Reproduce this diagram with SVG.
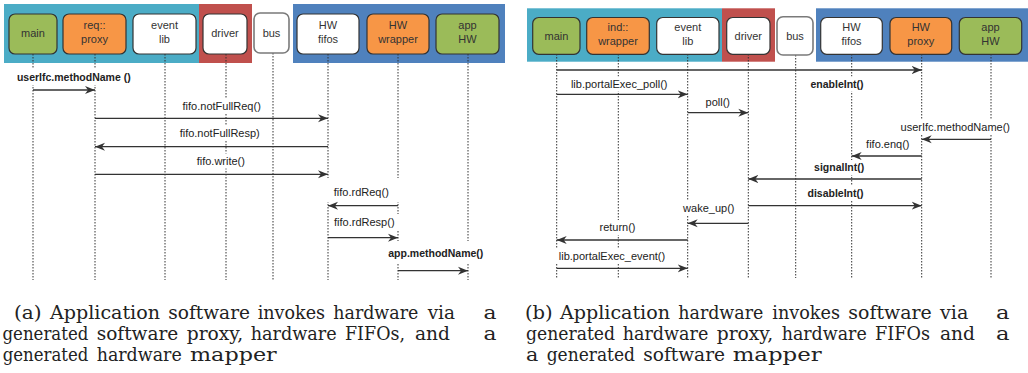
<svg xmlns="http://www.w3.org/2000/svg" width="1028" height="373" viewBox="0 0 1028 373">
<style>
.bg{fill:#fff}
.cy{fill:#4BACC6}.rd{fill:#C0504D}.bl{fill:#4F81BD}
.box{stroke:#333;stroke-width:1.2}
.g{fill:#9BBB59}.o{fill:#F79646}.w{fill:#fff}
.bus{fill:#fff;stroke:#7a7a7a;stroke-width:1.6}
.nt{font-family:"Liberation Sans",Arial,sans-serif;font-size:11px;fill:#333;text-anchor:middle}
.life{stroke:#333;stroke-width:1;stroke-dasharray:1.5 1.5;fill:none}
.lb{font-family:"Liberation Sans",Arial,sans-serif;font-size:11px;fill:#222;text-anchor:middle;dominant-baseline:central}
.b{font-weight:bold;font-size:10.5px}
.msg{stroke:#333;stroke-width:1.3;fill:none;marker-end:url(#ah)}
.cap{font-family:"DejaVu Serif","Liberation Serif",serif;font-size:19px;fill:#222}
</style>
<defs>
<marker id="ah" markerUnits="userSpaceOnUse" markerWidth="11" markerHeight="9" refX="10" refY="4.5" orient="auto">
<path d="M0,0.5 L10,4.5 L0,8.5 L3,4.5 Z" fill="#333"/>
</marker>
</defs>
<rect class="bg" x="0" y="0" width="1028" height="373"/>

<!-- Left bands -->
<rect class="cy" x="4" y="4" width="195" height="59"/>
<rect class="rd" x="199" y="4" width="53" height="59"/>
<rect class="bl" x="293" y="4" width="212" height="59"/>
<!-- Right bands -->
<rect class="cy" x="527" y="8.3" width="195" height="53.4"/>
<rect class="rd" x="722" y="8.3" width="53" height="53.4"/>
<rect class="bl" x="816" y="8.3" width="212" height="53.4"/>

<!-- Lifelines left -->
<g id="lifelines-a">
<line class="life" x1="33" y1="54" x2="33" y2="280"/>
<line class="life" x1="95" y1="54" x2="95" y2="280"/>
<line class="life" x1="165" y1="54" x2="165" y2="280"/>
<line class="life" x1="226" y1="54" x2="226" y2="280"/>
<line class="life" x1="273" y1="53" x2="273" y2="280"/>
<line class="life" x1="328" y1="54" x2="328" y2="280"/>
<line class="life" x1="398" y1="54" x2="398" y2="280"/>
<line class="life" x1="468" y1="54" x2="468" y2="280"/>
</g>
<g id="lifelines-b">
<line class="life" x1="556.7" y1="54" x2="556.7" y2="278"/>
<line class="life" x1="618.3" y1="54" x2="618.3" y2="278"/>
<line class="life" x1="687.7" y1="54" x2="687.7" y2="278"/>
<line class="life" x1="748.3" y1="54" x2="748.3" y2="278"/>
<line class="life" x1="795.7" y1="55" x2="795.7" y2="278"/>
<line class="life" x1="851.7" y1="54" x2="851.7" y2="278"/>
<line class="life" x1="921.7" y1="54" x2="921.7" y2="278"/>
<line class="life" x1="991" y1="54" x2="991" y2="278"/>
</g>

<!-- Nodes left -->
<g id="a-main"><rect class="box g" x="9" y="14" width="48" height="40" rx="6"/><text class="nt" x="33" y="36.5">main</text></g>
<g id="a-reqproxy"><rect class="box o" x="63" y="14" width="63" height="40" rx="6"/><text class="nt" x="94.5" y="29">req::</text><text class="nt" x="94.5" y="43">proxy</text></g>
<g id="a-eventlib"><rect class="box w" x="133" y="14" width="63" height="40" rx="6"/><text class="nt" x="164.5" y="29">event</text><text class="nt" x="164.5" y="43">lib</text></g>
<g id="a-driver"><rect class="box w" x="203" y="14" width="44" height="40" rx="6"/><text class="nt" x="225" y="36.5">driver</text></g>
<g id="a-bus"><rect class="bus" x="254" y="13" width="35" height="40" rx="6"/><text class="nt" x="271.5" y="36.5">bus</text></g>
<g id="a-hwfifos"><rect class="box w" x="297" y="14" width="62" height="40" rx="6"/><text class="nt" x="328" y="29">HW</text><text class="nt" x="328" y="43">fifos</text></g>
<g id="a-hwwrapper"><rect class="box o" x="367" y="14" width="62" height="40" rx="6"/><text class="nt" x="398" y="29">HW</text><text class="nt" x="398" y="43">wrapper</text></g>
<g id="a-apphw"><rect class="box g" x="436" y="14" width="63" height="40" rx="6"/><text class="nt" x="467.5" y="29">app</text><text class="nt" x="467.5" y="43">HW</text></g>

<!-- Nodes right -->
<g id="b-main"><rect class="box g" x="532.7" y="17.5" width="47.3" height="36.8" rx="6"/><text class="nt" x="556.4" y="39.5">main</text></g>
<g id="b-indwrapper"><rect class="box o" x="586.7" y="17.5" width="62.6" height="36.8" rx="6"/><text class="nt" x="618" y="31">ind::</text><text class="nt" x="618" y="45">wrapper</text></g>
<g id="b-eventlib"><rect class="box w" x="656.7" y="17.5" width="62.3" height="36.8" rx="6"/><text class="nt" x="687.8" y="31">event</text><text class="nt" x="687.8" y="45">lib</text></g>
<g id="b-driver"><rect class="box w" x="726.7" y="17.5" width="43.3" height="36.8" rx="6"/><text class="nt" x="748.3" y="39.5">driver</text></g>
<g id="b-bus"><rect class="bus" x="777" y="16.7" width="36" height="38.3" rx="6"/><text class="nt" x="795" y="39.5">bus</text></g>
<g id="b-hwfifos"><rect class="box w" x="820.7" y="17.5" width="61.6" height="36.8" rx="6"/><text class="nt" x="851.5" y="31">HW</text><text class="nt" x="851.5" y="45">fifos</text></g>
<g id="b-hwproxy"><rect class="box o" x="890" y="17.5" width="61.7" height="36.8" rx="6"/><text class="nt" x="920.8" y="31">HW</text><text class="nt" x="920.8" y="45">proxy</text></g>
<g id="b-apphw"><rect class="box g" x="959.3" y="17.5" width="62.4" height="36.8" rx="6"/><text class="nt" x="990.5" y="31">app</text><text class="nt" x="990.5" y="45">HW</text></g>

<!-- Label backgrounds (hide lifelines) -->
<g id="label-bg" fill="#fff">
<rect x="14" y="69" width="120" height="16"/>
<rect x="180" y="98" width="83" height="15"/>
<rect x="177" y="125.5" width="85" height="15"/>
<rect x="192" y="153.5" width="58" height="15"/>
<rect x="326" y="178" width="74" height="24"/>
<rect x="330" y="214" width="70" height="16"/>
<rect x="384" y="241" width="86" height="22"/>
<rect x="567" y="76.5" width="104" height="15"/>
<rect x="807" y="76.5" width="60" height="15"/>
<rect x="703" y="94.5" width="30" height="15"/>
<rect x="898" y="119.5" width="114" height="15"/>
<rect x="863" y="137" width="50" height="15"/>
<rect x="811" y="160" width="56" height="15"/>
<rect x="805" y="185.5" width="61" height="15"/>
<rect x="681" y="201" width="56" height="15"/>
<rect x="596" y="220" width="43" height="15"/>
<rect x="552" y="248.5" width="120" height="15"/>
</g>

<!-- Connectors -->
<g id="connectors">
<line class="msg" x1="33" y1="90" x2="95" y2="90"/>
<line class="msg" x1="95" y1="118.3" x2="328" y2="118.3"/>
<line class="msg" x1="328" y1="146.7" x2="95" y2="146.7"/>
<line class="msg" x1="95" y1="174.3" x2="328" y2="174.3"/>
<line class="msg" x1="398" y1="205.7" x2="328" y2="205.7"/>
<line class="msg" x1="328" y1="237.7" x2="398" y2="237.7"/>
<line class="msg" x1="398" y1="270.7" x2="468" y2="270.7"/>

<line class="msg" x1="556.7" y1="70" x2="921.7" y2="70"/>
<line class="msg" x1="556.7" y1="94.3" x2="687.7" y2="94.3"/>
<line class="msg" x1="687.7" y1="112.7" x2="748.3" y2="112.7"/>
<line class="msg" x1="991" y1="139.3" x2="921.7" y2="139.3"/>
<line class="msg" x1="921.7" y1="156" x2="851.7" y2="156"/>
<line class="msg" x1="921.7" y1="179" x2="748.3" y2="179"/>
<line class="msg" x1="748.3" y1="205.7" x2="921.7" y2="205.7"/>
<line class="msg" x1="748.3" y1="223.3" x2="687.7" y2="223.3"/>
<line class="msg" x1="687.7" y1="240" x2="556.7" y2="240"/>
<line class="msg" x1="556.7" y1="268.3" x2="687.7" y2="268.3"/>
</g>

<!-- Message labels -->
<g id="labels">
<text class="lb b" x="73.8" y="77">userIfc.methodName ()</text>
<text class="lb" x="221.7" y="105.7">fifo.notFullReq()</text>
<text class="lb" x="219.7" y="133">fifo.notFullResp)</text>
<text class="lb" x="220.8" y="161">fifo.write()</text>
<text class="lb" x="361.3" y="192">fifo.rdReq()</text>
<text class="lb" x="364.3" y="221.7">fifo.rdResp()</text>
<text class="lb b" x="435.8" y="253">app.methodName()</text>

<text class="lb" x="619.2" y="84">lib.portalExec_poll()</text>
<text class="lb b" x="837" y="84.3">enableInt()</text>
<text class="lb" x="717.8" y="101.7">poll()</text>
<text class="lb" x="955.3" y="126.7">userIfc.methodName()</text>
<text class="lb" x="887.8" y="144.3">fifo.enq()</text>
<text class="lb b" x="839.2" y="167.3">signalInt()</text>
<text class="lb b" x="835.5" y="192.7">disableInt()</text>
<text class="lb" x="708.8" y="208.3">wake_up()</text>
<text class="lb" x="617.5" y="227.3">return()</text>
<text class="lb" x="612" y="255.7">lib.portalExec_event()</text>
</g>

<!-- Captions -->
<g id="caption-a" class="cap">
<text x="14" y="318.5" textLength="27.7" lengthAdjust="spacingAndGlyphs">(a)</text>
<text x="50" y="318.5" textLength="110" lengthAdjust="spacingAndGlyphs">Application</text>
<text x="168.3" y="318.5" textLength="81.7" lengthAdjust="spacingAndGlyphs">software</text>
<text x="257.7" y="318.5" textLength="67.3" lengthAdjust="spacingAndGlyphs">invokes</text>
<text x="333.3" y="318.5" textLength="85" lengthAdjust="spacingAndGlyphs">hardware</text>
<text x="427.7" y="318.5" textLength="27.3" lengthAdjust="spacingAndGlyphs">via</text>
<text x="483.5" y="318.5" textLength="13" lengthAdjust="spacingAndGlyphs">a</text>
<text x="2.5" y="339.5" textLength="85.8" lengthAdjust="spacingAndGlyphs">generated</text>
<text x="96.7" y="339.5" textLength="81.6" lengthAdjust="spacingAndGlyphs">software</text>
<text x="186.7" y="339.5" textLength="56.6" lengthAdjust="spacingAndGlyphs">proxy,</text>
<text x="250.7" y="339.5" textLength="86" lengthAdjust="spacingAndGlyphs">hardware</text>
<text x="345" y="339.5" textLength="60" lengthAdjust="spacingAndGlyphs">FIFOs,</text>
<text x="415" y="339.5" textLength="35" lengthAdjust="spacingAndGlyphs">and</text>
<text x="483.5" y="339.5" textLength="13" lengthAdjust="spacingAndGlyphs">a</text>
<text x="2.7" y="360.5" textLength="85.6" lengthAdjust="spacingAndGlyphs">generated</text>
<text x="96.7" y="360.5" textLength="85" lengthAdjust="spacingAndGlyphs">hardware</text>
<text x="190" y="360.5" textLength="86.7" lengthAdjust="spacingAndGlyphs">mapper</text>
</g>
<g id="caption-b" class="cap">
<text x="525" y="318.5" textLength="27.7" lengthAdjust="spacingAndGlyphs">(b)</text>
<text x="560" y="318.5" textLength="110" lengthAdjust="spacingAndGlyphs">Application</text>
<text x="678.3" y="318.5" textLength="85" lengthAdjust="spacingAndGlyphs">hardware</text>
<text x="772.3" y="318.5" textLength="67.7" lengthAdjust="spacingAndGlyphs">invokes</text>
<text x="848.3" y="318.5" textLength="83.4" lengthAdjust="spacingAndGlyphs">software</text>
<text x="940" y="318.5" textLength="28.3" lengthAdjust="spacingAndGlyphs">via</text>
<text x="996" y="318.5" textLength="13.5" lengthAdjust="spacingAndGlyphs">a</text>
<text x="526" y="339.5" textLength="89" lengthAdjust="spacingAndGlyphs">generated</text>
<text x="622.7" y="339.5" textLength="85.6" lengthAdjust="spacingAndGlyphs">hardware</text>
<text x="716.7" y="339.5" textLength="56.6" lengthAdjust="spacingAndGlyphs">proxy,</text>
<text x="781.7" y="339.5" textLength="85" lengthAdjust="spacingAndGlyphs">hardware</text>
<text x="875" y="339.5" textLength="55" lengthAdjust="spacingAndGlyphs">FIFOs</text>
<text x="940" y="339.5" textLength="35" lengthAdjust="spacingAndGlyphs">and</text>
<text x="996" y="339.5" textLength="13.5" lengthAdjust="spacingAndGlyphs">a</text>
<text x="526" y="360.5" textLength="12.3" lengthAdjust="spacingAndGlyphs">a</text>
<text x="546.7" y="360.5" textLength="88.3" lengthAdjust="spacingAndGlyphs">generated</text>
<text x="643.3" y="360.5" textLength="81.7" lengthAdjust="spacingAndGlyphs">software</text>
<text x="732.7" y="360.5" textLength="89" lengthAdjust="spacingAndGlyphs">mapper</text>
</g>
</svg>
